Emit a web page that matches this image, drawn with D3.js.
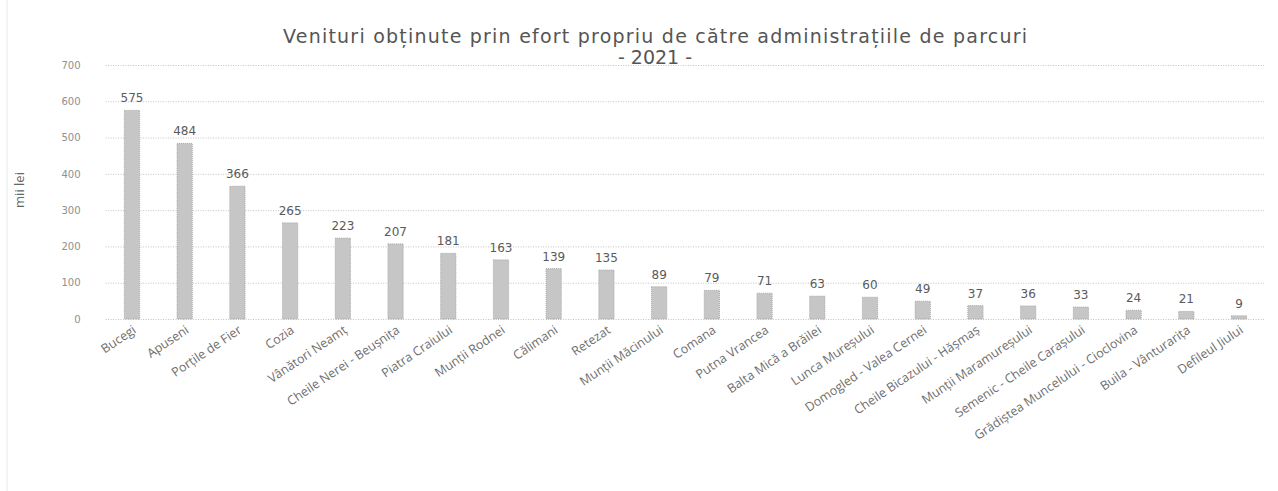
<!DOCTYPE html>
<html>
<head>
<meta charset="utf-8">
<script src="https://cdn.jsdelivr.net/npm/d3@7"></script>
<style>
  html, body { margin: 0; padding: 0; background: #fff; }
  svg { display: block; }
</style>
</head>
<body>
<svg id="chart" width="1278" height="491"></svg>
<script>
const categories = [
  "Bucegi", "Apuseni", "Porțile de Fier", "Cozia", "Vânători Neamț",
  "Cheile Nerei - Beușnița", "Piatra Craiului", "Munții Rodnei", "Călimani", "Retezat",
  "Munții Măcinului", "Comana", "Putna Vrancea", "Balta Mică a Brăilei", "Lunca Mureșului",
  "Domogled - Valea Cernei", "Cheile Bicazului - Hășmaș", "Munții Maramureșului",
  "Semenic - Cheile Carașului", "Grădiștea Muncelului - Cioclovina", "Buila - Vânturarița", "Defileul Jiului"
];
const values = [575, 484, 366, 265, 223, 207, 181, 163, 139, 135, 89, 79, 71, 63, 60, 49, 37, 36, 33, 24, 21, 9];
const yTicks = [0, 100, 200, 300, 400, 500, 600, 700];
const titleLines = ["Venituri obținute prin efort propriu de către administrațiile de parcuri", "- 2021 -"];
const yLabel = "mii lei";

(function () {
const svg = d3.select("#chart");
const font = "'Open Sans', 'DejaVu Sans', sans-serif";
const wide = "'DejaVu Sans', sans-serif";
const mLeft = 105.6, mRight = 1265.4, mTop = 65, mBottom = 319;

const x = d3.scaleBand().domain(categories).range([mLeft, mRight]).paddingInner(0.71).paddingOuter(0.355);
const y = d3.scaleLinear().domain([0, 700]).range([mBottom, mTop]);

// faint page edge
svg.append("line").attr("x1", 7).attr("x2", 7).attr("y1", 0).attr("y2", 491)
  .attr("stroke", "#e4e8ea").attr("stroke-width", 1);

// gridlines
svg.append("g")
  .selectAll("line").data(yTicks).join("line")
  .attr("x1", mLeft).attr("x2", mRight)
  .attr("y1", d => y(d) + 0.5).attr("y2", d => y(d) + 0.5)
  .attr("stroke", "#c2c2c2").attr("stroke-width", 1).attr("stroke-dasharray", "1,1.5");

// y axis labels
const yAxis = d3.axisLeft(y).tickValues(yTicks).tickSize(0).tickPadding(0);
const gy = svg.append("g").attr("transform", `translate(${mLeft - 25},0)`).call(yAxis);
gy.select(".domain").remove();
gy.selectAll("text").attr("font-family", wide).attr("font-size", 10).attr("fill", "#8f8f8f");

// bars
svg.append("g").selectAll("rect").data(values).join("rect")
  .attr("x", (d, i) => x(categories[i]))
  .attr("width", x.bandwidth())
  .attr("y", d => y(d))
  .attr("height", d => y(0) - y(d))
  .attr("fill", "#c6c6c6")
  .attr("stroke", "#a0a0a0").attr("stroke-width", 0.8).attr("stroke-dasharray", "1,1");

// value labels
svg.append("g").selectAll("text").data(values).join("text")
  .attr("x", (d, i) => x(categories[i]) + x.bandwidth() / 2)
  .attr("y", d => y(d) - 8)
  .attr("text-anchor", "middle")
  .attr("font-family", wide).attr("font-size", 12).attr("fill", "#5a5a5a")
  .text(d => d);

// x axis labels
const xAxis = d3.axisBottom(x).tickSize(0).tickPadding(0);
const gx = svg.append("g").attr("transform", `translate(0,${mBottom})`).call(xAxis);
gx.select(".domain").remove();
gx.selectAll("text")
  .attr("font-family", font).attr("font-size", 12.5).attr("fill", "#6e6e6e")
  .attr("text-anchor", "end")
  .attr("dy", 0)
  .attr("transform", "translate(5,13) rotate(-34)");

// y label
svg.append("text")
  .attr("transform", "translate(24,190) rotate(-90)")
  .attr("text-anchor", "middle")
  .attr("font-family", font).attr("font-size", 13).attr("fill", "#666")
  .text(yLabel);

// title
const titleSel = svg.append("g").selectAll("text").data(titleLines).join("text")
  .attr("x", 655).attr("y", (d, i) => 43 + i * 21)
  .attr("text-anchor", "middle")
  .attr("font-family", wide).attr("font-size", 19).attr("fill", "#555")
  .text(d => d);
titleSel.filter((d, i) => i === 0)
  .attr("textLength", 744)
  .attr("lengthAdjust", "spacing");
})();
</script>
</body>
</html>
